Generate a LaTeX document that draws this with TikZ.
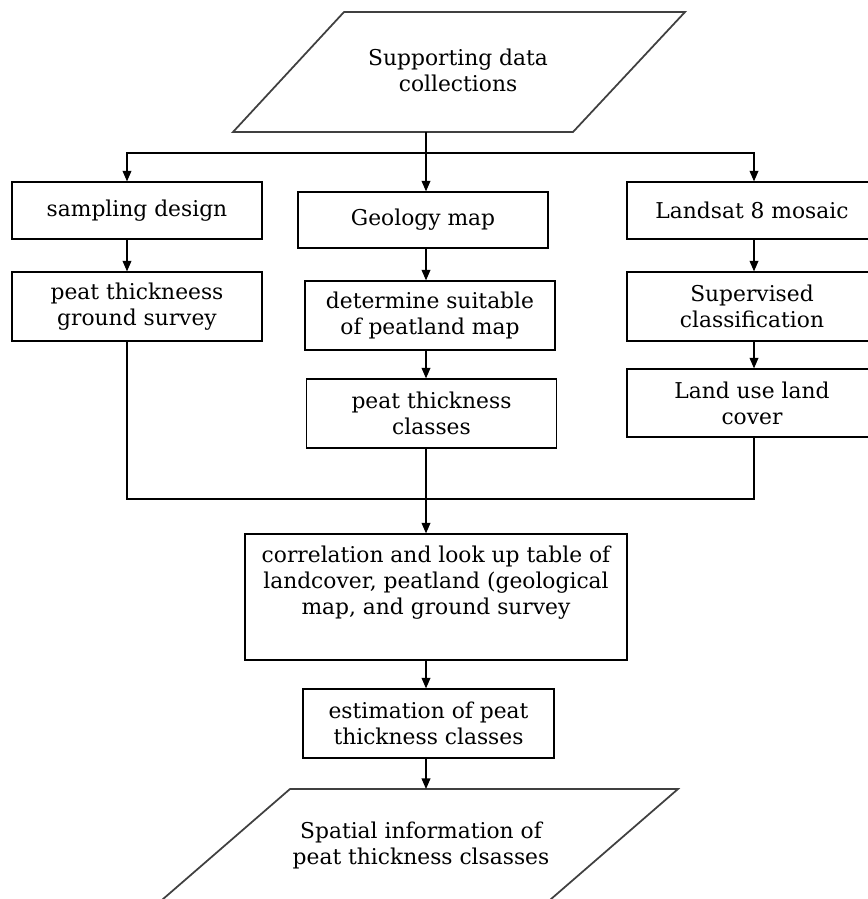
\documentclass[tikz,border=0pt]{standalone}
\usepackage{fontspec}
\setmainfont{DejaVu Serif}
\usetikzlibrary{arrows.meta}

\begin{document}
\begin{tikzpicture}[x=0.02cm,y=-0.02cm,line width=0.7pt,>={Triangle[length=6pt,width=5pt]},
    box/.style={draw,rectangle,align=center,minimum width=250*0.02cm,inner sep=0pt,
      font=\fontsize{12.4}{14.8}\selectfont},
    iotext/.style={align=center,inner sep=0pt,font=\fontsize{12.4}{14.8}\selectfont},
    iobox/.style={draw=black!75,line width=1pt}]
      \useasboundingbox (0,0) rectangle (868,899);
      % input parallelograms
      \draw[iobox] (344,12) -- (685,12) -- (573,132) -- (233,132) -- cycle;
      \node[iotext] (supp) at (458,70) {Supporting data\\collections};
      \coordinate (suppbot) at (426,132);
      \draw[iobox] (155,906) -- (290,789) -- (678,789) -- (543,906);
      \node[iotext] (spatial) at (421,845) {Spatial information of\\peat thickness clsasses};
      \coordinate (spatialtop) at (426,789);
      % columns
      \coordinate (lcol) at (127,0);
      \coordinate (mcol) at (426,0);
      \coordinate (rcol) at (754,0);
      \coordinate (split) at (426,153);
      \coordinate (join) at (426,499);
      % boxes
      \node[box,minimum height=57*0.02cm] (sampling) at (137,210.5) {sampling design};
      \node[box,minimum height=69*0.02cm] (ground) at (137,306.5) {peat thickneess\\ground survey};
      \node[box,minimum height=56*0.02cm] (geology) at (423,220) {Geology map};
      \node[box,minimum height=69*0.02cm] (suitable) at (430,315.5) {determine suitable\\of peatland map};
      \node[box,minimum height=69*0.02cm] (classes) at (431.5,413.5) {peat thickness\\classes};
      \node[box,minimum height=57*0.02cm] (landsat) at (752,210.5) {Landsat 8 mosaic};
      \node[box,minimum height=69*0.02cm] (supervised) at (752,306.5) {Supervised\\classification};
      \node[box,minimum height=68*0.02cm] (landuse) at (752,403) {Land use land\\cover};
      \node[box,minimum width=382*0.02cm,minimum height=126*0.02cm] (correlation) at (436,597)
        {correlation and look up table of\\landcover, peatland (geological\\map, and ground survey\\\strut};
      \node[box,minimum width=251*0.02cm,minimum height=69*0.02cm] (estimation) at (428.5,723.5)
        {estimation of peat\\thickness classes};
      % connectors
      \draw[->] (suppbot) -- (mcol |- geology.north);
      \draw[->] (split) -| (lcol |- sampling.north);
      \draw[->] (split) -| (rcol |- landsat.north);
      \draw[->] (lcol |- sampling.south) -- (lcol |- ground.north);
      \draw[->] (mcol |- geology.south) -- (mcol |- suitable.north);
      \draw[->] (mcol |- suitable.south) -- (mcol |- classes.north);
      \draw[->] (rcol |- landsat.south) -- (rcol |- supervised.north);
      \draw[->] (rcol |- supervised.south) -- (rcol |- landuse.north);
      \draw (lcol |- ground.south) |- (join) -| (rcol |- landuse.south);
      \draw[->] (mcol |- classes.south) -- (mcol |- correlation.north);
      \draw[->] (mcol |- correlation.south) -- (mcol |- estimation.north);
      \draw[->] (mcol |- estimation.south) -- (spatialtop);
    \end{tikzpicture}
\end{document}
